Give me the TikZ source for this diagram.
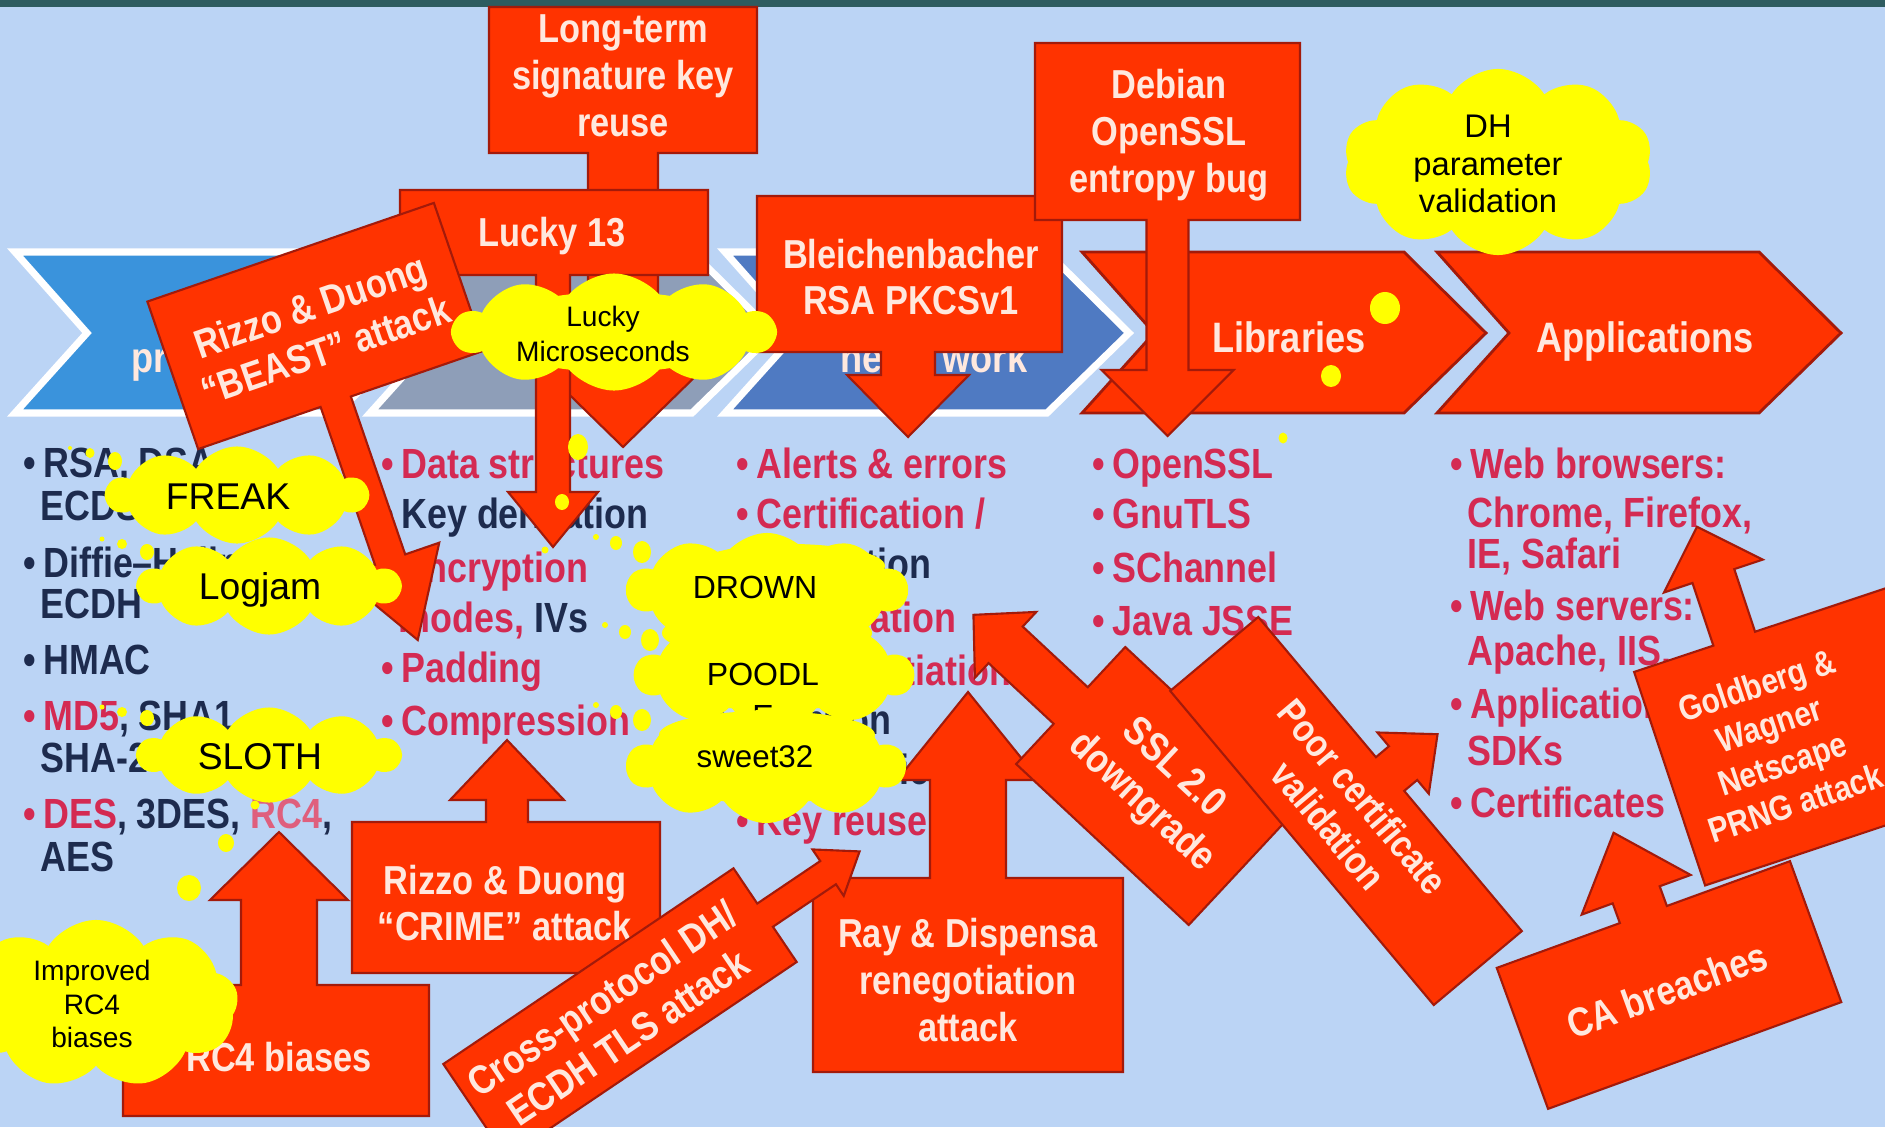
\documentclass[tikz,border=0pt]{standalone}
\usepackage{fontspec}
\setmainfont{Liberation Sans}
\newfontfamily\cf[FakeStretch=0.85]{Liberation Sans}
\usetikzlibrary{calc,shapes.symbols}
\definecolor{bg}{HTML}{BBD4F5}
\definecolor{topbar}{HTML}{2E5C60}
\definecolor{boxred}{HTML}{FF3300}
\definecolor{boxedge}{HTML}{A31A0A}
\definecolor{boxtxt}{HTML}{FFE8DE}
\definecolor{navy}{HTML}{1D2B4E}
\definecolor{crim}{HTML}{D42A52}
\definecolor{chA}{HTML}{3A93DC}
\definecolor{chB}{HTML}{8E9EB8}
\definecolor{chC}{HTML}{4F7AC2}
\definecolor{cyel}{HTML}{FFFF00}
\newcommand\bu{\textbullet\hspace{2pt}}
% #1 centre, #2 arrow direction, #3 half box depth, #4 half box width,
% #5 lateral offset, #6 arrow length, #7 shaft half width, #8 head half width, #9 head length
\newcommand\callout[9]{%
  \begin{scope}[shift={(#1)},rotate=#2]
    \path[calloutsty] (-#3,-#4) -- (#3,-#4) -- (#3,#5-#7) -- (#3+#6-#9,#5-#7)
      -- (#3+#6-#9,#5-#8) -- (#3+#6,#5) -- (#3+#6-#9,#5+#8) -- (#3+#6-#9,#5+#7)
      -- (#3,#5+#7) -- (#3,#4) -- (-#3,#4) -- cycle;
  \end{scope}}
\newcommand\chev[2]{\path[#2] (#1,252) -- ++(322,0) -- ++(82,81) -- ++(-82,80) -- ++(-322,0) -- ++(72,-80) -- cycle;}
\begin{document}
\begin{tikzpicture}[x=0.01cm,y=-0.01cm,
  calloutsty/.style={fill=boxred, draw=boxedge, line width=0.6pt},
  btxt/.style={text=boxtxt, font=\cf\bfseries\fontsize{11.5}{13.3}\selectfont, align=center, inner sep=0pt},
  lst/.style={anchor=west, inner sep=0pt, font=\cf\bfseries\fontsize{12}{14}\selectfont, text height=8.6pt, text depth=0pt},
  lste/.style={lst, anchor=east},
  ctxt/.style={text=boxtxt, font=\cf\bfseries\fontsize{12.1}{14}\selectfont, inner sep=0pt, text height=8.7pt, text depth=0pt},
  puff/.style={cloud, cloud puffs=10, cloud puff arc=115, cloud ignores aspect, fill=cyel, inner sep=0pt},
  cldtxt/.style={align=center, inner sep=0pt, text=black},
  dot/.style={fill=cyel}]
\useasboundingbox (0,0) rectangle (1885,1127);
\clip (0,0) rectangle (1885,1127);
\fill[bg] (0,0) rectangle (1885,1127);
\fill[topbar] (0,0) rectangle (1885,7);
% chevrons
\chev{15}{fill=chA, draw=white, line width=2pt}
\chev{370}{fill=chB, draw=white, line width=2pt}
\chev{725}{fill=chC, draw=white, line width=2pt}
\chev{1082}{fill=boxred, draw=boxedge, line width=0.8pt}
\chev{1437}{fill=boxred, draw=boxedge, line width=0.8pt}
\node[ctxt, anchor=west] (tpr) at (131,357) {pr};
\node[ctxt, anchor=west] (tne) at (840,357) {ne};
\node[ctxt, anchor=west] (twork) at (942,357) {work};
\node[ctxt] (tlib) at (1289,337) {Libraries};
\node[ctxt] (tapp) at (1645,337) {Applications};
% column 1
\node[lst, text=navy] (c1a) at (23,462) {\bu RSA, DSA,};
\node[lst, text=navy] (c1b) at (40,505) {ECDSA};
\node[lst, text=navy] (c1c) at (23,562) {\bu Diffie–Hellman,};
\node[lst, text=navy] (c1d) at (40,603) {ECDH};
\node[lst, text=navy] (c1e) at (23,659) {\bu HMAC};
\node[lst, text=navy] (c1f) at (23,715) {\textcolor{crim}{\bu MD5}, SHA1,};
\node[lst, text=navy] (c1g) at (40,757) {SHA-2};
\node[lst, text=navy] (c1h) at (23,813) {\textcolor{crim}{\bu DES}, 3DES, \textcolor{crim!75!white}{RC4},};
\node[lst, text=navy] (c1i) at (40,856) {AES};
% column 2
\node[lst, text=crim] (c2a) at (381,463) {\bu Data structures};
\node[lst, text=navy] (c2b) at (381,513) {\bu Key derivation};
\node[lst, text=crim] (c2c) at (381,567) {\bu Encryption};
\node[lst, text=navy] (c2d) at (398,617) {\textcolor{crim}{modes,} IVs};
\node[lst, text=crim] (c2e) at (381,667) {\bu Padding};
\node[lst, text=crim] (c2f) at (381,720) {\bu Compression};
% column 3
\node[lst, text=crim] (c3a) at (736,463) {\bu Alerts \& errors};
\node[lst, text=crim] (c3b) at (736,513) {\bu Certification /};
\node[lste, text=navy] (c3c) at (932,563) {validation};
\node[lste, text=crim] (c3d) at (957,617) {\bu Negotiation};
\node[lste, text=crim] (c3e) at (1012,670) {\bu Renegotiation};
\node[lste, text=navy] (c3f) at (892,719) {resumption};
\node[lste, text=navy] (c3g) at (930,769) {Cryptographic};
\node[lst, text=crim] (c3h) at (736,820) {\bu Key reuse};
% libraries
\node[lst, text=crim] (c4a) at (1092,463) {\bu OpenSSL};
\node[lst, text=crim] (c4b) at (1092,513) {\bu GnuTLS};
\node[lst, text=crim] (c4c) at (1092,567) {\bu SChannel};
\node[lst, text=crim] (c4d) at (1092,620) {\bu Java JSSE};
% applications
\node[lst, text=crim] (c5a) at (1450,463) {\bu Web browsers:};
\node[lst, text=crim] (c5b) at (1467,512) {Chrome, Firefox,};
\node[lst, text=crim] (c5c) at (1467,553) {IE, Safari};
\node[lst, text=crim] (c5d) at (1450,605) {\bu Web servers:};
\node[lst, text=crim] (c5e) at (1467,650) {Apache, IIS,};
\node[lst, text=crim] (c5f) at (1450,703) {\bu Application};
\node[lst, text=crim] (c5g) at (1467,750) {SDKs};
\node[lst, text=crim] (c5h) at (1450,802) {\bu Certificates};
% attack callouts
\callout{623,80}{-90}{73}{134}{0}{294}{35}{82}{80}
\node[btxt] (tlt) at (623,76) {Long-term\\signature key\\reuse};
\callout{554,232.5}{-90}{42.5}{154}{1}{272}{17}{45}{55}
\node[btxt] (tl13) at (552,236) {Lucky 13};
\callout{316,326}{-71}{78}{151.5}{6}{252}{16}{52}{85}
\node[btxt, rotate=19] (tbeast) at (318,328) {Rizzo \& Duong\\“BEAST” attack};
\callout{909.5,274}{-90}{78}{152.5}{1.5}{85}{27}{61}{62}
\node[btxt] (tbl) at (911,277) {Bleichenbacher\\RSA PKCSv1};
\callout{1167.5,131.5}{-90}{88.5}{132.5}{0}{216}{21}{66}{66}
\node[btxt] (tdeb) at (1169,135) {Debian\\OpenSSL\\entropy bug};
\callout{506,897.5}{90}{75.5}{154}{1}{82}{21}{57}{60}
\node[btxt] (tcrime) at (505,903) {Rizzo \& Duong\\“CRIME” attack};
\callout{276,1050.5}{90}{65.5}{153}{3}{153}{38}{69}{68}
\node[btxt] (trc4) at (279,1057) {RC4 biases};
\callout{968,975}{90}{97}{155}{0}{186}{38}{71}{88}
\node[btxt] (tray) at (968,980) {Ray \& Dispensa\\renegotiation\\attack};
\callout{1157,786}{137}{118}{80}{0}{133}{25}{45}{44}
\node[btxt, rotate=-43] (tssl) at (1157,786) {SSL 2.0\\downgrade};
\callout{1346,811}{40}{57.5}{205}{0}{62}{22}{40}{45}
\node[btxt, rotate=-50, font=\cf\bfseries\fontsize{11}{12.8}\selectfont] (tpc) at (1346,811) {Poor certificate\\validation};
\callout{620,1013}{34}{175}{56.5}{0}{114}{14}{28}{38}
\node[btxt, rotate=34] (tcross) at (615,1018) {Cross-protocol DH/\\ECDH TLS attack};
\callout{1669,985}{110}{75}{156}{0}{87}{25}{58}{66}
\node[btxt, rotate=20] (tca) at (1667,990) {CA breaches};
\callout{1797.7,736.1}{108.4}{112.5}{135}{-29.5}{118}{22}{52}{52}
\node[btxt, rotate=18.4, font=\cf\bfseries\fontsize{10}{11.8}\selectfont] (tgw) at (1776,744) {Goldberg \&\\Wagner\\Netscape\\PRNG attack};
% clouds
\node[puff, minimum width=3.09cm, minimum height=1.86cm] (cDH) at (1498,162) {};
\node[cldtxt, font=\fontsize{9.3}{10.6}\selectfont] (tDH) at (1488,164) {DH\\parameter\\validation};
\fill[dot] (1385,308) ellipse [x radius=0.15cm, y radius=0.16cm];
\fill[dot] (1331,376) ellipse [x radius=0.10cm, y radius=0.11cm];
\fill[dot] (1283,438) ellipse [x radius=0.045cm, y radius=0.055cm];
\node[puff, minimum width=3.21cm, minimum height=1.17cm] (cLM) at (614,332) {};
\fill[cyel] (614,332) ellipse [x radius=1.3cm, y radius=0.4cm];
\node[cldtxt, font=\fontsize{8}{10}\selectfont] (tLM) at (603,334) {Lucky\\Microseconds};
\fill[dot] (578,447) ellipse [x radius=0.10cm, y radius=0.13cm];
\fill[dot] (562,502) ellipse [x radius=0.07cm, y radius=0.08cm];
\fill[dot] (545,550) ellipse [x radius=0.035cm, y radius=0.035cm];
\node[puff, minimum width=2.61cm, minimum height=0.97cm] (cFR) at (237,495) {};
\node[cldtxt, font=\fontsize{10.6}{12}\selectfont] (tFR) at (228,497) {FREAK};
\fill[dot] (115,461) ellipse [x radius=0.07cm, y radius=0.09cm];
\fill[dot] (90,453) ellipse [x radius=0.045cm, y radius=0.05cm];
\fill[dot] (70,448) ellipse [x radius=0.02cm, y radius=0.02cm];
\node[puff, minimum width=2.62cm, minimum height=0.97cm] (cLJ) at (269,586) {};
\node[cldtxt, font=\fontsize{10.6}{12}\selectfont] (tLJ) at (260,590) {Logjam};
\fill[dot] (147,552) ellipse [x radius=0.07cm, y radius=0.08cm];
\fill[dot] (122,544) ellipse [x radius=0.05cm, y radius=0.05cm];
\fill[dot] (102,539) ellipse [x radius=0.025cm, y radius=0.025cm];
\node[puff, minimum width=2.62cm, minimum height=0.95cm] (cSL) at (269,755) {};
\node[cldtxt, font=\fontsize{10.6}{12}\selectfont] (tSL) at (260,757) {SLOTH};
\fill[dot] (147,718) ellipse [x radius=0.07cm, y radius=0.08cm];
\fill[dot] (122,712) ellipse [x radius=0.05cm, y radius=0.05cm];
\fill[dot] (102,707) ellipse [x radius=0.025cm, y radius=0.025cm];
\fill[dot] (255,805) ellipse [x radius=0.045cm, y radius=0.045cm];
\fill[dot] (226,843) ellipse [x radius=0.08cm, y radius=0.09cm];
\fill[dot] (189,888) ellipse [x radius=0.12cm, y radius=0.13cm];
\node[puff, cloud puffs=9, minimum width=2.84cm, minimum height=1.68cm] (cRC) at (96,1004) {};
\node[cldtxt, font=\fontsize{8}{9.5}\selectfont] (tRC) at (92,1004) {Improved\\RC4\\biases};
% DROWN / POODLE / sweet32 stack
\node[puff, minimum width=2.8cm, minimum height=1.14cm] (cDR) at (767,590) {};
\fill[cyel] (767,590) ellipse [x radius=1.15cm, y radius=0.38cm];
\fill[cyel] (790,566) ellipse [x radius=0.95cm, y radius=0.22cm];
\fill[cyel] (767,633) ellipse [x radius=1.05cm, y radius=0.25cm];
\node[cldtxt, font=\fontsize{9.1}{11}\selectfont] (tDR) at (755,587) {DROWN};
\fill[dot] (642,552) ellipse [x radius=0.09cm, y radius=0.11cm];
\fill[dot] (616,543) ellipse [x radius=0.06cm, y radius=0.07cm];
\fill[dot] (596,537) ellipse [x radius=0.03cm, y radius=0.03cm];
\node[puff, minimum width=2.78cm, minimum height=1.1cm] (cPO) at (774,675) {};
\fill[cyel] (774,675) ellipse [x radius=1.12cm, y radius=0.36cm];
\node[cldtxt, font=\fontsize{9.1}{11}\selectfont] (tPO1) at (763,674) {POODL};
\node[cldtxt, font=\fontsize{9.1}{11}\selectfont] (tPO2) at (763,716) {E};
\fill[dot] (650,640) ellipse [x radius=0.09cm, y radius=0.11cm];
\fill[dot] (625,632) ellipse [x radius=0.06cm, y radius=0.07cm];
\fill[dot] (605,625) ellipse [x radius=0.03cm, y radius=0.03cm];
\node[puff, minimum width=2.78cm, minimum height=1.14cm] (cSW) at (766,766) {};
\fill[cyel] (766,766) ellipse [x radius=1.12cm, y radius=0.38cm];
\fill[cyel] (767,735) ellipse [x radius=1.08cm, y radius=0.24cm];
\node[cldtxt, font=\fontsize{8.9}{11}\selectfont] (tSW) at (755,757) {sweet32};
\fill[dot] (642,720) ellipse [x radius=0.09cm, y radius=0.11cm];
\fill[dot] (616,712) ellipse [x radius=0.06cm, y radius=0.07cm];
\fill[dot] (596,705) ellipse [x radius=0.03cm, y radius=0.03cm];
\end{tikzpicture}
\end{document}
